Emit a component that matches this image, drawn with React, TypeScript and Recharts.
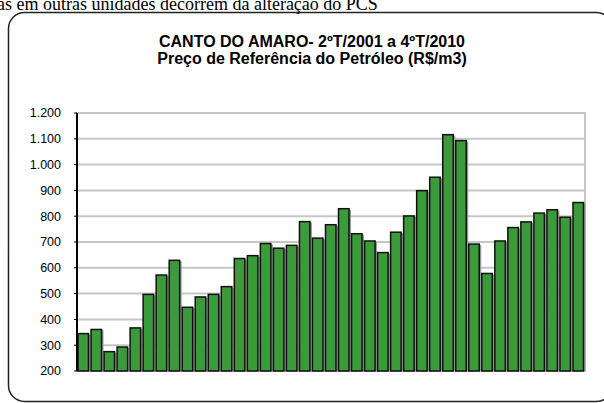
import { Bar, BarChart, CartesianGrid, ReferenceArea, XAxis, YAxis } from "recharts";

const quarters = [
  "2T01", "3T01", "4T01",
  "1T02", "2T02", "3T02", "4T02",
  "1T03", "2T03", "3T03", "4T03",
  "1T04", "2T04", "3T04", "4T04",
  "1T05", "2T05", "3T05", "4T05",
  "1T06", "2T06", "3T06", "4T06",
  "1T07", "2T07", "3T07", "4T07",
  "1T08", "2T08", "3T08", "4T08",
  "1T09", "2T09", "3T09", "4T09",
  "1T10", "2T10", "3T10", "4T10",
];

const prices = [
  345, 361, 275, 293, 367, 497, 572, 629, 447, 487, 497, 527, 636,
  647, 694, 676, 687, 779, 715, 767, 829, 732, 704, 659, 738, 801,
  899, 951, 1116, 1093, 692, 578, 704, 756, 778, 812, 825, 796, 853,
];

const yTicks = [200, 300, 400, 500, 600, 700, 800, 900, 1000, 1100, 1200];

const data = quarters.map((q, i) => ({ q, price: prices[i] }));

const fmt = (v: number) => v.toLocaleString("de-DE");

function ShadowBar(props: any) {
  const { x, y, width, height } = props;
  if (!height || height <= 0) return null;
  return (
    <g>
      <rect x={x + 1.5} y={y + 1} width={width} height={height - 1} fill="#9a9a9a" />
      <rect x={x} y={y} width={width - 0.5} height={height} fill="#3b9b3b" stroke="#111" strokeWidth={1.5} />
    </g>
  );
}

export default function App() {
  return (
    <div
      style={{
        position: "fixed",
        left: 0,
        top: 0,
        width: 604,
        height: 403,
        overflow: "hidden",
        background: "#fff",
      }}
    >
      <div
        style={{
          position: "absolute",
          left: -3,
          top: -5.5,
          whiteSpace: "nowrap",
          fontFamily: "'Liberation Serif', serif",
          fontSize: 18,
          lineHeight: "18px",
          color: "#000",
        }}
      >
        as em outras unidades decorrem da alteração do PCS
      </div>
      <svg width={604} height={403} style={{ position: "absolute", left: 0, top: 0 }}>
        <rect x={8.5} y={12.5} width={604} height={389} rx={16} ry={16} fill="none" stroke="#222" strokeWidth={1.5} />
      </svg>
      <div
        style={{
          position: "absolute",
          left: 112,
          top: 34,
          width: 400,
          textAlign: "center",
          fontFamily: "'Liberation Sans', Arial, sans-serif",
          fontWeight: 700,
          fontSize: 16,
          lineHeight: "16.5px",
          color: "#000",
        }}
      >
        <div>CANTO DO AMARO- 2ºT/2001 a 4ºT/2010</div>
        <div>Preço de Referência do Petróleo (R$/m3)</div>
      </div>
      <div style={{ position: "absolute", left: 0, top: 0 }}>
        <BarChart
          width={604}
          height={403}
          data={data}
          margin={{ top: 113, right: 19, bottom: 32, left: 17 }}
          barCategoryGap={1}
        >
          <CartesianGrid vertical={false} stroke="#c6c6c6" strokeWidth={2} />
          <ReferenceArea y1={200} y2={1200} fill="none" stroke="#c6c6c6" strokeWidth={2} ifOverflow="visible" />
          <XAxis
            dataKey="q"
            height={0}
            tick={false}
            tickLine={false}
            axisLine={{ stroke: "#111", strokeWidth: 1.5 }}
          />
          <YAxis
            width={60}
            domain={[200, 1200]}
            ticks={yTicks}
            interval={0}
            tickFormatter={fmt}
            tickSize={3}
            tickMargin={13}
            tick={{ fontSize: 12.5, fill: "#000", fontFamily: "'Liberation Sans', Arial, sans-serif" }}
            tickLine={{ stroke: "#000", strokeWidth: 1 }}
            axisLine={{ stroke: "#000", strokeWidth: 2 }}
          />
          <Bar dataKey="price" shape={<ShadowBar />} isAnimationActive={false} />
        </BarChart>
      </div>
    </div>
  );
}
